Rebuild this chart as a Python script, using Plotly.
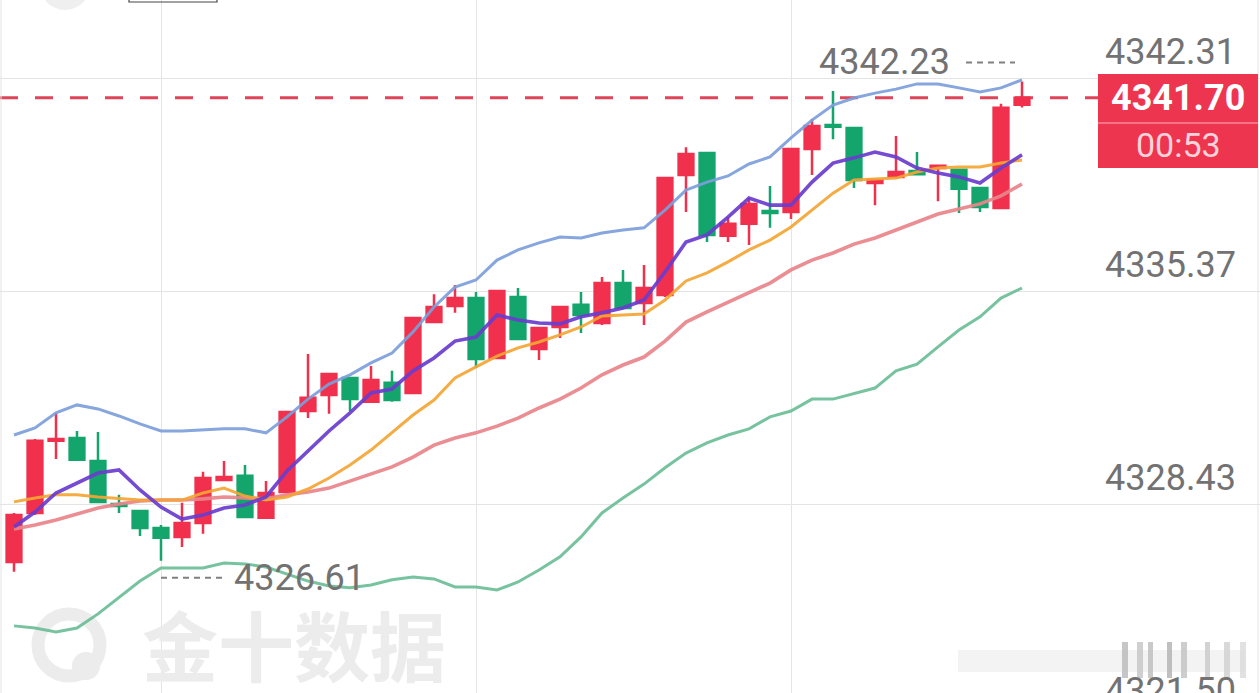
import plotly.graph_objects as go

# ---------------- data ----------------
candle_idx = list(range(49))

open_ = [4326.57, 4328.17, 4330.52, 4330.61, 4329.86, 4328.46, 4328.23, 4327.68, 4327.39, 4327.84,
         4329.24, 4329.38, 4328.01, 4328.85, 4331.49, 4332.01, 4332.57, 4331.79, 4332.41, 4332.08,
         4334.39, 4334.91, 4335.17, 4333.22, 4335.21, 4333.51, 4334.23, 4334.95, 4334.36, 4335.66,
         4335.01, 4335.27, 4339.18, 4339.90, 4337.20, 4337.59, 4338.01, 4337.98, 4340.03, 4340.81,
         4340.71, 4338.92, 4339.12, 4339.31, 4339.41, 4339.35, 4338.76, 4338.11, 4341.47]

high = [4328.17, 4330.58, 4331.43, 4330.84, 4330.81, 4328.76, 4328.23, 4327.78, 4328.50, 4329.51,
        4329.86, 4329.73, 4329.21, 4331.49, 4333.35, 4332.73, 4332.60, 4332.96, 4332.80, 4334.56,
        4335.30, 4335.60, 4335.37, 4335.44, 4335.50, 4334.23, 4334.91, 4335.37, 4335.86, 4336.09,
        4336.25, 4339.08, 4340.09, 4339.90, 4337.81, 4338.43, 4338.82, 4340.06, 4341.01, 4341.92,
        4340.71, 4339.02, 4340.45, 4339.93, 4339.51, 4339.35, 4338.76, 4341.50, 4342.23]

low = [4326.25, 4328.10, 4329.93, 4329.90, 4328.53, 4328.17, 4327.42, 4326.61, 4327.06, 4327.49,
       4329.21, 4328.04, 4327.97, 4328.82, 4331.26, 4331.40, 4331.49, 4331.75, 4331.79, 4332.05,
       4334.36, 4334.69, 4332.89, 4333.19, 4333.84, 4333.15, 4333.87, 4334.03, 4334.29, 4334.85,
       4334.29, 4335.21, 4337.98, 4337.00, 4337.00, 4336.90, 4337.46, 4337.75, 4339.18, 4340.35,
       4338.76, 4338.20, 4339.12, 4339.18, 4338.33, 4337.94, 4337.98, 4338.11, 4341.38]

close = [4328.10, 4330.52, 4330.58, 4329.90, 4328.53, 4328.40, 4327.68, 4327.36, 4327.84, 4329.31,
         4329.34, 4328.04, 4328.82, 4331.46, 4331.92, 4332.70, 4331.88, 4332.50, 4331.85, 4334.52,
         4334.88, 4335.17, 4333.19, 4335.40, 4333.84, 4334.20, 4334.88, 4334.62, 4335.66, 4334.85,
         4335.50, 4339.08, 4339.87, 4337.23, 4337.59, 4338.24, 4337.94, 4340.03, 4340.78, 4340.75,
         4339.02, 4339.02, 4339.28, 4339.21, 4339.48, 4338.73, 4338.14, 4341.37, 4341.70]

boll_upper = [4330.71, 4330.94, 4331.43, 4331.69, 4331.56, 4331.33, 4331.07, 4330.84, 4330.84, 4330.87,
              4330.91, 4330.91, 4330.78, 4331.30, 4331.88, 4332.37, 4332.67, 4333.06, 4333.38, 4334.07,
              4334.88, 4335.53, 4335.76, 4336.41, 4336.74, 4336.97, 4337.16, 4337.13, 4337.29, 4337.39,
              4337.46, 4338.04, 4338.69, 4338.95, 4339.15, 4339.54, 4339.77, 4340.39, 4340.97, 4341.46,
              4341.69, 4341.85, 4341.98, 4342.15, 4342.15, 4342.02, 4341.89, 4342.02, 4342.28]

boll_mid = [4327.65, 4327.78, 4327.94, 4328.14, 4328.33, 4328.46, 4328.56, 4328.59, 4328.59, 4328.63,
            4328.69, 4328.66, 4328.63, 4328.76, 4328.85, 4328.98, 4329.21, 4329.44, 4329.67, 4329.99,
            4330.38, 4330.61, 4330.78, 4331.00, 4331.26, 4331.59, 4331.88, 4332.24, 4332.67, 4332.99,
            4333.25, 4333.77, 4334.39, 4334.72, 4335.04, 4335.37, 4335.66, 4336.09, 4336.41, 4336.64,
            4336.93, 4337.13, 4337.39, 4337.62, 4337.91, 4338.07, 4338.24, 4338.50, 4338.89]

boll_lower = [4324.49, 4324.42, 4324.29, 4324.42, 4324.88, 4325.43, 4325.95, 4326.38, 4326.38, 4326.38,
              4326.54, 4326.51, 4326.41, 4326.18, 4325.95, 4325.79, 4325.73, 4325.82, 4325.99, 4326.08,
              4326.02, 4325.76, 4325.76, 4325.66, 4325.92, 4326.31, 4326.74, 4327.39, 4328.17, 4328.66,
              4329.11, 4329.64, 4330.12, 4330.45, 4330.71, 4330.91, 4331.30, 4331.49, 4331.88, 4331.88,
              4332.05, 4332.24, 4332.80, 4333.02, 4333.58, 4334.13, 4334.56, 4335.17, 4335.50]

ma5 = [4327.71, 4328.20, 4328.82, 4329.15, 4329.47, 4329.57, 4328.92, 4328.36, 4327.97, 4328.10,
       4328.33, 4328.43, 4328.69, 4329.54, 4330.19, 4330.84, 4331.43, 4332.08, 4332.21, 4332.80,
       4333.22, 4333.77, 4333.90, 4334.62, 4334.46, 4334.36, 4334.33, 4334.56, 4334.69, 4334.85,
       4335.11, 4336.02, 4337.00, 4337.23, 4337.81, 4338.43, 4338.20, 4338.20, 4338.95, 4339.57,
       4339.74, 4339.93, 4339.77, 4339.41, 4339.25, 4339.12, 4338.92, 4339.41, 4339.84]

ma10 = [4328.53, 4328.66, 4328.76, 4328.76, 4328.69, 4328.63, 4328.59, 4328.59, 4328.59, 4328.82,
        4328.98, 4328.72, 4328.59, 4328.69, 4328.95, 4329.31, 4329.73, 4330.22, 4330.78, 4331.36,
        4331.85, 4332.57, 4332.93, 4333.28, 4333.55, 4333.74, 4333.97, 4334.23, 4334.59, 4334.62,
        4334.65, 4335.11, 4335.73, 4335.99, 4336.35, 4336.74, 4337.06, 4337.49, 4338.04, 4338.59,
        4339.02, 4339.05, 4339.08, 4339.28, 4339.41, 4339.44, 4339.44, 4339.57, 4339.67]

axis_ticks = [4342.31, 4335.37, 4328.43, 4321.50]
axis_labels = ["4342.31", "4335.37", "4328.43", "4321.50"]
grid_idx = [7, 22, 37]
last_price = 4341.70
last_label = "4341.70"
countdown = "00:53"
high_idx, high_label = 48, "4342.23"
low_idx, low_label = 7, "4326.61"
watermark = "金十数据"

# ---------------- styles ----------------
RED = "#F0304C"
GREEN = "#13A56C"
GREY_TXT = "#727272"
NUM_FONT = "Roboto, 'DejaVu Sans', sans-serif"
W, H = 1260, 693
Y_RANGE = [4322.303, 4344.884]

fig = go.Figure()

fig.add_trace(go.Candlestick(
    x=candle_idx, open=open_, high=high, low=low, close=close,
    increasing=dict(line=dict(color=RED, width=2.5), fillcolor=RED),
    decreasing=dict(line=dict(color=GREEN, width=2.5), fillcolor=GREEN),
    whiskerwidth=0, hoverinfo="skip", showlegend=False,
))

line_specs = [
    (boll_lower, "#6DBE97", 3.0),
    (boll_mid, "#EA858B", 3.6),
    (boll_upper, "#7C9FDB", 3.0),
    (ma10, "#F4A534", 3.0),
    (ma5, "#6A3CCF", 3.6),
]
for vals, col, wd in line_specs:
    fig.add_trace(go.Scatter(x=candle_idx, y=vals, mode="lines",
                             line=dict(color=col, width=wd),
                             opacity=0.92, hoverinfo="skip", showlegend=False))

shapes = []
# current price dashed line
shapes.append(dict(type="line", xref="paper", yref="y", x0=0, x1=1098 / W,
                   y0=last_price, y1=last_price,
                   line=dict(color="#DD4558", width=3, dash="18px,17px"), layer="below"))
# borders left / right
for px in (1, 1258):
    shapes.append(dict(type="line", xref="paper", yref="paper", x0=px / W, x1=px / W, y0=0, y1=1,
                       line=dict(color="#e4e4e4", width=1), layer="below"))
# price box
shapes.append(dict(type="rect", xref="paper", yref="paper", x0=1098 / W, x1=1258 / W,
                   y0=1 - 168 / H, y1=1 - 74 / H, fillcolor="#EE354F", line=dict(width=0)))
shapes.append(dict(type="line", xref="paper", yref="paper", x0=1098 / W, x1=1258 / W,
                   y0=1 - 123 / H, y1=1 - 123 / H, line=dict(color="#F6889A", width=1.5)))
# high / low marker dashes
shapes.append(dict(type="line", xref="x", yref="y", xsizemode="pixel", ysizemode="pixel",
                   xanchor=high_idx, yanchor=high[high_idx], x0=-56, x1=-7, y0=19, y1=19,
                   line=dict(color="#808080", width=2, dash="6px,5px")))
shapes.append(dict(type="line", xref="x", yref="y", xsizemode="pixel", ysizemode="pixel",
                   xanchor=low_idx, yanchor=low[low_idx], x0=0, x1=64, y0=-17, y1=-17,
                   line=dict(color="#808080", width=2, dash="6px,5px")))
# top cropped UI elements
shapes.append(dict(type="circle", xref="paper", yref="paper", x0=40 / W, x1=90 / W,
                   y0=1 - 10 / H, y1=1 + 40 / H, fillcolor="#efefef", line=dict(width=0)))
shapes.append(dict(type="rect", xref="paper", yref="paper", x0=129 / W, x1=217 / W,
                   y0=1 - 2 / H, y1=1 + 10 / H, fillcolor="rgba(0,0,0,0)",
                   line=dict(color="#444444", width=1.2)))
# watermark logo ring
shapes.append(dict(type="circle", xref="paper", yref="paper", x0=38 / W, x1=100 / W,
                   y0=1 - 676 / H, y1=1 - 614 / H, fillcolor="rgba(0,0,0,0)",
                   line=dict(color="#ececec", width=13), layer="below"))
shapes.append(dict(type="circle", xref="paper", yref="paper", x0=72 / W, x1=100 / W,
                   y0=1 - 680 / H, y1=1 - 652 / H, fillcolor="#ececec",
                   line=dict(width=0), layer="below"))
# faint blurred stamp at bottom right
shapes.append(dict(type="rect", xref="paper", yref="paper", x0=958 / W, x1=1245 / W,
                   y0=1 - 672 / H, y1=1 - 650 / H, fillcolor="#f3f3f3", line=dict(width=0),
                   layer="below"))
for x0, x1, g in [(1122, 1128, "#b8b8b8"), (1137, 1143, "#c4c4c4"), (1148, 1153, "#bcbcbc"),
                  (1167, 1172, "#b0b0b0"), (1181, 1187, "#c0c0c0"), (1205, 1210, "#c8c8c8"),
                  (1224, 1230, "#d0d0d0"), (1240, 1246, "#dadada")]:
    shapes.append(dict(type="rect", xref="paper", yref="paper", x0=x0 / W, x1=x1 / W,
                       y0=1 - 678 / H, y1=1 - 642 / H, fillcolor=g, line=dict(width=0),
                       opacity=0.8, layer="below"))

annotations = []
for v, t in zip(axis_ticks, axis_labels):
    ypix = H * (Y_RANGE[1] - v) / (Y_RANGE[1] - Y_RANGE[0]) - 27
    annotations.append(dict(x=1238 / W, xref="paper", xanchor="right", y=1 - ypix / H,
                            yref="paper", yanchor="middle", text=t, showarrow=False,
                            font=dict(family=NUM_FONT, size=36, color=GREY_TXT)))
annotations.append(dict(x=1178 / W, xref="paper", y=1 - 98 / H, yref="paper", text=last_label,
                        showarrow=False, xanchor="center", yanchor="middle",
                        font=dict(family=NUM_FONT, size=36, color="white", weight="bold")))
annotations.append(dict(x=1178 / W, xref="paper", y=1 - 145 / H, yref="paper", text=countdown,
                        showarrow=False, xanchor="center", yanchor="middle",
                        font=dict(family=NUM_FONT, size=34, color="#FFD3DA")))
annotations.append(dict(x=high_idx, xref="x", y=high[high_idx], yref="y", xanchor="right",
                        yanchor="middle", xshift=-70, yshift=19, text=high_label, showarrow=False,
                        font=dict(family=NUM_FONT, size=36, color=GREY_TXT)))
annotations.append(dict(x=low_idx, xref="x", y=low[low_idx], yref="y", xanchor="left",
                        yanchor="middle", xshift=71, yshift=-17, text=low_label, showarrow=False,
                        font=dict(family=NUM_FONT, size=36, color=GREY_TXT)))
annotations.append(dict(x=140 / W, xref="paper", y=1 - 643 / H, yref="paper", text=watermark,
                        showarrow=False, xanchor="left", yanchor="middle",
                        font=dict(family="Noto Sans CJK SC", size=76, color="#ececec", weight="bold")))

fig.update_layout(
    width=W, height=H, margin=dict(l=0, r=0, t=0, b=0),
    paper_bgcolor="white", plot_bgcolor="white", showlegend=False,
    boxgap=0.12, boxgroupgap=0.2,
    xaxis=dict(range=[-2 / 3, 59 + 1 / 3], tickvals=grid_idx, showgrid=True, gridcolor="#e4e4e4",
               gridwidth=1, showticklabels=False, zeroline=False, showline=False,
               rangeslider=dict(visible=False), fixedrange=True),
    yaxis=dict(range=Y_RANGE, tickvals=axis_ticks, showgrid=True, gridcolor="#e4e4e4",
               gridwidth=1, showticklabels=False, zeroline=False, showline=False, fixedrange=True),
    shapes=shapes, annotations=annotations,
)

fig.write_html("out.html")
